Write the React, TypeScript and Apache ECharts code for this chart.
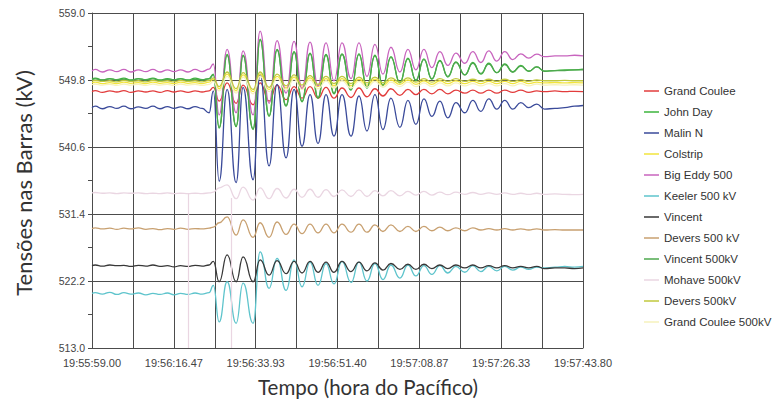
import React, { useEffect, useRef } from "react";
import * as echarts from "echarts";

// Time in seconds after 19:55:59.00 (pre-fault ripple, fault, oscillation extrema, tail)
const TIME_S = [
  0, 0.7, 2.2, 3.8, 5.3, 6.8, 8.3, 9.9, 11.5, 13.0, 14.5, 16.1, 17.5, 18.9, 20.5, 22.0, 23.5, 25.0,
  25.9,
  27.14, 28.84, 30.76, 32.25, 34.39, 35.88, 37.8, 39.5, 41.42, 43.13, 44.83, 46.54, 48.24, 49.95,
  51.65, 53.36, 55.28, 56.98, 58.69, 60.39, 62.1, 63.8, 65.72, 67.43, 69.13, 70.84, 72.54, 74.25,
  75.95, 77.66, 79.58, 81.28, 82.99, 84.69, 86.4, 88.1, 89.81, 91.51, 93.22, 94.93,
  96.6, 98.8, 100.9, 103.0, 104.8,
];

const TICK_LABELS = [
  "19:55:59.00", "19:56:16.47", "19:56:33.93", "19:56:51.40",
  "19:57:08.87", "19:57:26.33", "19:57:43.80",
];

const SERIES_NAMES = [
  "Grand Coulee", "John Day", "Malin N", "Colstrip", "Big Eddy 500", "Keeler 500 kV",
  "Vincent", "Devers 500 kV", "Vincent 500kV", "Mohave 500kV", "Devers 500kV", "Grand Coulee 500kV",
];

const grandCoulee = [
  548.2, 548.35, 548.1, 548.3, 548.15, 548.35, 548.1, 548.3, 548.15, 548.3, 548.1, 548.35, 548.15, 548.3, 548.1, 548.3, 548.15, 548.3,
  548.8,
  546.9, 549.4, 546.6, 549.1, 546.4, 549.4, 546.9, 549.1, 547.1, 548.9, 547.3, 548.9, 547.3, 548.8, 547.3, 548.7, 547.4, 548.7, 547.5, 548.6,
  547.6, 548.6, 547.7, 548.5, 547.8, 548.5, 547.9, 548.5, 547.9, 548.4, 548.0, 548.4, 548.0, 548.4, 548.0, 548.4, 548.1, 548.4, 548.1, 548.3,
  548.2, 548.3, 548.2, 548.25, 548.2,
];

const johnDay = [
  549.9, 550.05, 549.8, 550.0, 549.85, 550.05, 549.8, 550.0, 549.85, 550.05, 549.8, 550.0, 549.85, 550.0, 549.8, 550.05, 549.85, 550.0,
  550.6,
  543.2, 553.3, 543.4, 553.2, 543.0, 555.4, 544.8, 554.0, 546.2, 553.7, 546.8, 553.5, 547.3, 553.3, 547.9, 553.4, 548.4, 553.4, 548.7, 553.2,
  549.0, 553.0, 549.4, 552.8, 549.7, 552.7, 549.9, 552.5, 550.2, 552.3, 550.5, 552.2, 550.6, 552.1, 550.8, 552.0, 550.9, 551.8, 551.0, 551.6,
  551.0, 551.1, 551.2, 551.2, 551.3,
];

const malinN = [
  546.0, 546.2, 545.85, 546.15, 545.9, 546.2, 545.85, 546.1, 545.9, 546.2, 545.85, 546.15, 545.9, 546.1, 545.85, 546.15, 545.9, 545.3,
  548.3,
  535.9, 548.5, 535.7, 548.8, 536.1, 550.6, 538.0, 549.2, 539.1, 548.5, 540.7, 547.8, 541.1, 547.8, 542.1, 547.8, 542.1, 547.6, 542.8, 547.8,
  543.0, 547.3, 543.3, 547.0, 543.7, 547.2, 544.8, 546.9, 544.6, 546.7, 545.3, 547.0, 545.5, 547.2, 545.8, 547.0, 545.8, 546.7, 546.0, 546.5,
  545.8, 545.9, 546.0, 546.2, 546.3,
];

const colstrip = [
  549.4, 549.5, 549.3, 549.45, 549.3, 549.5, 549.35, 549.45, 549.3, 549.5, 549.35, 549.45, 549.3, 549.5, 549.35, 549.45, 549.3, 549.5,
  549.9,
  548.6, 550.6, 548.3, 550.5, 548.2, 550.6, 548.5, 550.3, 548.7, 550.2, 548.8, 550.1, 548.9, 550.0, 549.0, 550.0, 549.0, 549.9, 549.1, 549.9,
  549.1, 549.8, 549.2, 549.8, 549.2, 549.7, 549.2, 549.7, 549.3, 549.7, 549.3, 549.6, 549.3, 549.6, 549.3, 549.6, 549.3, 549.6, 549.3, 549.5,
  549.4, 549.45, 549.4, 549.45, 549.4,
];

const bigEddy = [
  551.05, 551.25, 550.9, 551.2, 550.95, 551.25, 550.9, 551.2, 550.95, 551.25, 550.9, 551.2, 550.95, 551.2, 550.9, 551.25, 550.95, 551.3,
  552.0,
  545.0, 554.0, 545.3, 553.8, 545.0, 556.5, 546.6, 555.2, 548.0, 555.1, 548.6, 555.0, 549.0, 554.9, 549.7, 554.9, 550.0, 554.9, 550.3, 554.7,
  550.6, 554.3, 550.9, 554.0, 551.2, 554.0, 551.5, 553.7, 551.8, 553.5, 552.1, 553.7, 552.2, 553.8, 552.4, 553.7, 552.6, 553.4, 552.8, 553.35,
  553.0, 553.1, 553.1, 553.2, 553.1,
];

const keeler = [
  520.5, 520.6, 520.4, 520.65, 520.35, 520.6, 520.4, 520.55, 520.3, 520.5, 520.35, 520.55, 520.3, 520.5, 520.35, 520.55, 520.4, 520.6,
  521.6,
  516.6, 522.1, 516.4, 521.9, 516.4, 526.2, 521.2, 525.3, 520.9, 525.1, 521.4, 524.8, 521.6, 524.6, 521.8, 524.9, 522.0, 524.8, 522.2, 524.6,
  522.4, 524.4, 522.6, 524.4, 522.9, 524.3, 523.1, 524.3, 523.3, 524.2, 523.4, 524.3, 523.5, 524.2, 523.6, 524.2, 523.7, 524.1, 523.8, 524.1,
  524.0, 524.1, 524.2, 524.1, 524.2,
];

const vincent = [
  524.3, 524.4, 524.25, 524.4, 524.3, 524.35, 524.2, 524.35, 524.25, 524.4, 524.2, 524.3, 524.15, 524.3, 524.2, 524.35, 524.25, 524.4,
  524.9,
  522.1, 525.8, 522.1, 525.5, 522.1, 525.1, 523.0, 525.0, 523.2, 524.9, 523.3, 524.9, 523.4, 524.8, 523.4, 524.9, 523.5, 524.8, 523.6, 524.7,
  523.7, 524.6, 523.8, 524.5, 523.8, 524.5, 523.9, 524.4, 523.9, 524.4, 524.0, 524.4, 524.0, 524.3, 524.0, 524.3, 524.0, 524.2, 524.0, 524.2,
  523.9, 524.0, 524.0, 523.9, 524.0,
];

const devers500 = [
  529.4, 529.5, 529.35, 529.45, 529.3, 529.45, 529.35, 529.5, 529.3, 529.4, 529.25, 529.4, 529.3, 529.45, 529.3, 529.4, 529.35, 529.45,
  529.6,
  530.2, 531.0, 528.5, 530.6, 528.2, 530.2, 528.2, 530.3, 528.6, 530.0, 528.7, 530.0, 528.8, 530.0, 528.8, 530.0, 528.9, 530.0, 528.9, 529.9,
  529.0, 529.9, 529.0, 529.7, 529.0, 529.7, 529.1, 529.6, 529.1, 529.5, 529.1, 529.5, 529.2, 529.4, 529.2, 529.4, 529.2, 529.35, 529.2, 529.35,
  529.2, 529.25, 529.2, 529.2, 529.2,
];

const vincent500 = [
  549.85, 549.95, 549.8, 549.95, 549.8, 549.9, 549.75, 549.95, 549.8, 549.95, 549.75, 549.9, 549.8, 549.95, 549.75, 549.9, 549.8, 549.95,
  550.5,
  543.3, 553.2, 543.5, 553.1, 543.1, 555.3, 544.9, 553.9, 546.3, 553.6, 546.9, 553.4, 547.4, 553.2, 548.0, 553.3, 548.5, 553.3, 548.8, 553.1,
  549.1, 552.9, 549.5, 552.7, 549.8, 552.6, 550.0, 552.4, 550.3, 552.2, 550.5, 552.1, 550.7, 552.0, 550.8, 551.9, 550.9, 551.7, 551.0, 551.6,
  551.0, 551.1, 551.1, 551.2, 551.2,
];

const mohave = [
  534.3, 534.35, 534.25, 534.3, 534.2, 534.3, 534.25, 534.3, 534.2, 534.25, 534.2, 534.3, 534.2, 534.25, 534.2, 534.25, 534.2, 534.3,
  534.4,
  535.0, 535.4, 533.5, 535.1, 533.3, 535.0, 533.5, 534.9, 533.6, 534.8, 533.7, 534.8, 533.7, 534.75, 533.8, 534.7, 533.8, 534.7, 533.8, 534.6,
  533.9, 534.6, 533.9, 534.5, 534.0, 534.5, 534.0, 534.4, 534.05, 534.4, 534.1, 534.35, 534.1, 534.3, 534.1, 534.3, 534.1, 534.25, 534.1, 534.25,
  534.1, 534.15, 534.1, 534.05, 534.1,
];

// Mohave data dropouts (time in s, level before the drop)
const MOHAVE_DROPOUT_T = [20.6, 29.7];
const MOHAVE_DROPOUT_TOP = [534.2, 533.6];

const devers500b = [
  549.65, 549.75, 549.6, 549.7, 549.55, 549.75, 549.6, 549.7, 549.55, 549.75, 549.6, 549.7, 549.55, 549.75, 549.6, 549.7, 549.55, 549.75,
  550.1,
  548.9, 550.9, 548.6, 550.8, 548.5, 550.9, 548.8, 550.6, 549.0, 550.5, 549.1, 550.4, 549.2, 550.3, 549.3, 550.3, 549.3, 550.2, 549.4, 550.2,
  549.4, 550.1, 549.5, 550.1, 549.5, 550.0, 549.5, 550.0, 549.6, 550.0, 549.6, 549.9, 549.6, 549.9, 549.6, 549.9, 549.6, 549.85, 549.6, 549.8,
  549.7, 549.7, 549.75, 549.7, 549.7,
];

const grandCoulee500 = [
  549.15, 549.25, 549.1, 549.2, 549.05, 549.25, 549.1, 549.2, 549.05, 549.25, 549.1, 549.2, 549.05, 549.25, 549.1, 549.2, 549.05, 549.2,
  549.6,
  548.3, 550.3, 548.0, 550.2, 547.9, 550.3, 548.2, 550.0, 548.4, 549.9, 548.5, 549.8, 548.6, 549.7, 548.7, 549.7, 548.7, 549.6, 548.8, 549.6,
  548.8, 549.5, 548.9, 549.5, 548.9, 549.4, 548.9, 549.4, 549.0, 549.4, 549.0, 549.3, 549.0, 549.3, 549.0, 549.3, 549.0, 549.3, 549.0, 549.25,
  549.1, 549.15, 549.1, 549.15, 549.1,
];

const SERIES_VALUES = [
  grandCoulee, johnDay, malinN, colstrip, bigEddy, keeler,
  vincent, devers500, vincent500, mohave, devers500b, grandCoulee500,
];

const COLORS = [
  "#e23c3c", "#3cb43c", "#3a4a9a", "#f2e43c", "#c864be", "#5ec4cc",
  "#383838", "#c8a070", "#4ea84e", "#ead6e2", "#c0c83c", "#f6f2bc",
];

const X_MAX = 104.8;
const X_STEP = X_MAX / 12;
const Y_MIN = 513;
const Y_MAX = 559;
const Y_STEP = 9.2;

const AXIS_COLOR = "#4c4c4c";
const LABEL_FONT = "Liberation Sans, Arial, sans-serif";
const TITLE_FONT = "Lato, 'Noto Sans', sans-serif";

function buildOption(): echarts.EChartsOption {
  const series: any[] = SERIES_NAMES.map((name, i) => {
    const s: any = {
      name,
      type: "line",
      data: TIME_S.map((t, k) => [t, SERIES_VALUES[i][k] - Y_MIN]),
      symbol: "none",
      smooth: 0.5,
      smoothMonotone: "x",
      lineStyle: { color: COLORS[i], width: 1.3 },
      itemStyle: { color: COLORS[i] },
      z: 3,
    };
    if (name === "Mohave 500kV") {
      s.markLine = {
        silent: true,
        symbol: ["none", "none"],
        label: { show: false },
        lineStyle: { color: COLORS[i], width: 1.2, type: "solid" },
        data: MOHAVE_DROPOUT_T.map((t, j) => [
          { coord: [t, MOHAVE_DROPOUT_TOP[j] - Y_MIN] },
          { coord: [t, 0] },
        ]),
      };
    }
    return s;
  });

  return {
    animation: false,
    backgroundColor: "#ffffff",
    grid: { left: 92, right: 195, top: 13, bottom: 60, containLabel: false },
    xAxis: {
      type: "value",
      min: 0,
      max: X_MAX,
      interval: X_STEP,
      axisLine: { show: true, lineStyle: { color: AXIS_COLOR, width: 1 } },
      axisTick: { show: false },
      splitLine: { show: true, lineStyle: { color: AXIS_COLOR, width: 1 } },
      axisLabel: {
        margin: 9,
        fontSize: 11,
        fontFamily: LABEL_FONT,
        color: "#444",
        formatter: (v: number) => {
          const k = Math.round(v / X_STEP);
          if (k % 2 !== 0) return "";
          return TICK_LABELS[k / 2] ?? "";
        },
      },
    },
    yAxis: {
      type: "value",
      min: 0,
      max: Y_MAX - Y_MIN,
      interval: Y_STEP,
      axisLine: { show: true, lineStyle: { color: AXIS_COLOR, width: 1 } },
      axisTick: { show: true, length: 4, lineStyle: { color: AXIS_COLOR } },
      minorTick: { show: true, splitNumber: 2, length: 4, lineStyle: { color: AXIS_COLOR } },
      splitLine: { show: true, lineStyle: { color: AXIS_COLOR, width: 1 } },
      axisLabel: {
        margin: 7,
        fontSize: 10.5,
        fontFamily: LABEL_FONT,
        color: "#444",
        formatter: (v: number) => (v + Y_MIN).toFixed(1),
      },
    },
    legend: {
      orient: "vertical",
      left: 639,
      top: 80,
      icon: "rect",
      itemWidth: 15,
      itemHeight: 1.5,
      itemGap: 9,
      data: SERIES_NAMES,
      textStyle: { fontSize: 11.5, fontFamily: LABEL_FONT, color: "#333", lineHeight: 12 },
    },
    graphic: [
      {
        type: "text",
        x: 368,
        y: 387,
        style: {
          text: "Tempo (hora do Pacífico)",
          font: `20.5px ${TITLE_FONT}`,
          fill: "#333",
          align: "center",
          verticalAlign: "middle",
        },
      },
      {
        type: "text",
        x: 23,
        y: 183,
        rotation: Math.PI / 2,
        style: {
          text: "Tensões nas Barras (kV)",
          font: `22px ${TITLE_FONT}`,
          fill: "#333",
          align: "center",
          verticalAlign: "middle",
        },
      },
    ],
    series,
  } as any;
}

export default function App() {
  const ref = useRef<HTMLDivElement>(null);
  useEffect(() => {
    if (!ref.current) return;
    const chart = echarts.init(ref.current, null, { renderer: "svg" });
    chart.setOption(buildOption());
    return () => chart.dispose();
  }, []);
  return (
    <div
      ref={ref}
      style={{ position: "absolute", left: 0, top: 0, width: 778, height: 408 }}
    />
  );
}
